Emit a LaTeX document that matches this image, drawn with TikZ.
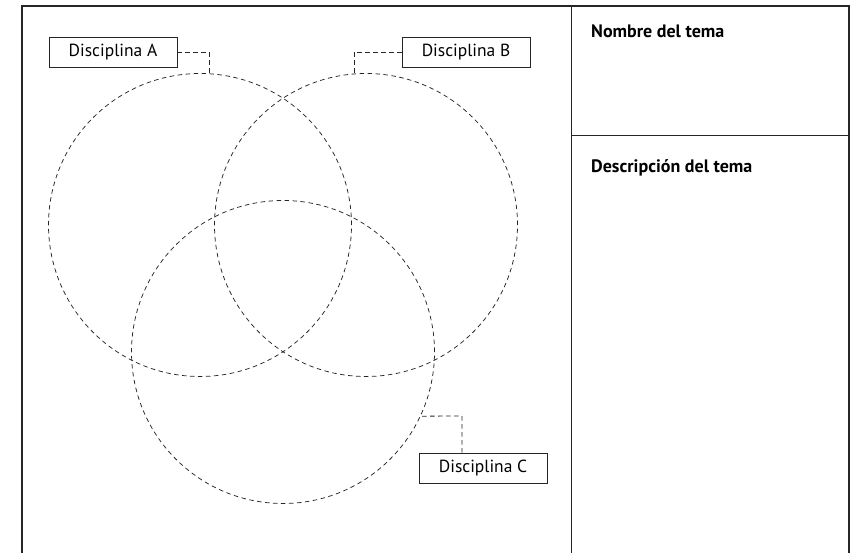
\documentclass[tikz,border=0pt]{standalone}
\usepackage{fontspec}
\setmainfont{PT Sans}
\begin{document}
\begin{tikzpicture}[x=1pt,y=-1pt,
  frame/.style={draw=black!85,line width=1.6pt},
  thin/.style={draw=black!85,line width=0.9pt},
  venn/.style={draw=black!85,dash pattern=on 4.5pt off 3.5pt,line width=0.75pt},
  lead/.style={draw=black!85,dash pattern=on 4.5pt off 3.5pt,line width=0.8pt},
  labelbox/.style={draw=black!85,line width=0.8pt,fill=white,minimum width=128pt,minimum height=30pt,inner sep=0pt,font=\fontsize{17.5}{20}\selectfont},
  heading/.style={anchor=west,inner sep=0pt,font=\fontsize{18}{20}\selectfont\bfseries}]
\useasboundingbox (0,0) rectangle (852,553);
% frame
\draw[frame] (22,553) -- (22,6) -- (849,6) -- (849,553);
\draw[thin] (571,6) -- (571,553);
\draw[thin] (571,135) -- (849,135);
\node[heading] (nombre) at (591,31) {Nombre del tema};
\node[heading] (desc) at (591,168) {Descripción del tema};
% circles
\node[venn,circle,minimum size=303pt,inner sep=0pt] (ca) at (200,225) {};
\node[venn,circle,minimum size=303pt,inner sep=0pt] (cb) at (366,225) {};
\node[venn,circle,minimum size=303pt,inner sep=0pt] (cc) at (283,352) {};
% labels
\node[labelbox] (la) at (113,52) {Disciplina A};
\node[labelbox] (lb) at (466,52) {Disciplina B};
\node[labelbox] (lc) at (483,468) {Disciplina C};
\coordinate (ka) at (209,52);
\coordinate (kb) at (354,52);
\coordinate (kc) at (462,416);
\draw[lead] (la.east) -- (ka) -- (ka |- ca.north);
\draw[lead] (lb.west) -- (kb) -- (kb |- cb.north);
\draw[lead] (lc.north -| kc) -- (kc) -- (cc.-25);
\end{tikzpicture}
\end{document}
